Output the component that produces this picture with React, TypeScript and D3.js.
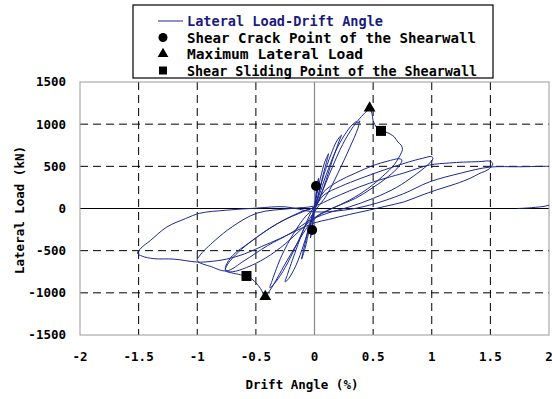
import React from 'react';
import * as d3 from 'd3';

// drift angle (%) / lateral load (kN), one array per loading cycle
const cycle1 = [[0, 0], [0.01, 130], [0.02, 267], [0.035, 360], [0.03, 300], [0.01, 120], [-0.005, -60], [-0.02, -255], [-0.035, -350], [-0.025, -260], [-0.005, -40], [0, 10]];
const cycle2 = [[0.02, 160], [0.05, 360], [0.09, 560], [0.12, 650], [0.11, 590], [0.07, 380], [0.03, 140], [0, -20], [-0.04, -230], [-0.08, -470], [-0.11, -600], [-0.1, -530], [-0.06, -300], [-0.02, -80], [0, 10]];
const cycle3 = [[0.03, 150], [0.08, 400], [0.14, 640], [0.19, 800], [0.23, 870], [0.21, 800], [0.15, 560], [0.08, 260], [0.02, 40], [-0.03, -140], [-0.09, -420], [-0.16, -680], [-0.22, -830], [-0.25, -870], [-0.23, -780], [-0.16, -500], [-0.08, -200], [-0.02, -20], [0, 20]];
const cycle4 = [[0.04, 160], [0.1, 400], [0.18, 680], [0.26, 880], [0.32, 990], [0.36, 1030], [0.37, 1010], [0.385, 1040], [0.37, 950], [0.3, 720], [0.2, 420], [0.1, 150], [0.02, 0], [-0.06, -160], [-0.15, -420], [-0.25, -700], [-0.33, -870], [-0.38, -940], [-0.36, -850], [-0.28, -560], [-0.18, -300], [-0.08, -100], [0, 10]];
const cycle5 = [[0.06, 180], [0.14, 450], [0.24, 760], [0.33, 970], [0.4, 1090], [0.45, 1160], [0.47, 1175], [0.49, 1130], [0.5, 1040], [0.53, 960], [0.56, 920], [0.62, 900], [0.68, 850], [0.71, 790], [0.74, 750], [0.75, 700], [0.74, 660], [0.68, 520], [0.58, 380], [0.45, 230], [0.3, 100], [0.15, 0], [0.03, -90], [-0.05, -200], [-0.15, -420], [-0.26, -680], [-0.34, -880], [-0.39, -990], [-0.42, -1035], [-0.44, -1000], [-0.46, -950], [-0.5, -880], [-0.55, -820], [-0.58, -800], [-0.65, -780], [-0.75, -740], [-0.76, -700], [-0.7, -560], [-0.55, -400], [-0.4, -250], [-0.25, -130], [-0.1, -30], [0, 20]];
const cycle6 = [[0.08, 200], [0.2, 320], [0.35, 420], [0.5, 510], [0.62, 560], [0.72, 590], [0.745, 575], [0.72, 500], [0.63, 380], [0.5, 250], [0.35, 120], [0.18, 20], [0.03, -80], [-0.1, -230], [-0.25, -420], [-0.42, -590], [-0.58, -700], [-0.7, -750], [-0.76, -740], [-0.74, -660], [-0.62, -480], [-0.45, -300], [-0.28, -150], [-0.1, -40], [0, 20]];
const cycle7 = [[0.08, 160], [0.22, 260], [0.4, 360], [0.6, 460], [0.8, 550], [0.92, 595], [1.0, 615], [1.01, 590], [0.96, 510], [0.85, 390], [0.7, 250], [0.5, 120], [0.3, 20], [0.1, -60], [-0.05, -150], [-0.2, -290], [-0.4, -440], [-0.6, -620], [-0.75, -740], [-0.88, -690], [-1.0, -620], [-0.98, -560], [-0.85, -380], [-0.7, -215], [-0.49, -55], [-0.2, 0], [0, 30]];
const cycle8 = [[0.15, 120], [0.3, 210], [0.47, 300], [0.62, 365], [0.76, 420], [0.98, 515], [1.15, 540], [1.27, 550], [1.4, 555], [1.5, 560], [1.52, 530], [1.49, 470], [1.4, 410], [1.33, 360], [1.2, 290], [1.04, 220], [0.9, 150], [0.76, 77], [0.6, 25], [0.47, -18], [0.3, -70], [0.12, -130], [0, -170], [-0.15, -260], [-0.3, -360], [-0.45, -450], [-0.6, -540], [-0.75, -600], [-0.9, -630], [-1.0, -635], [-1.2, -600], [-1.37, -595], [-1.47, -565], [-1.51, -530], [-1.48, -470], [-1.4, -380], [-1.26, -220], [-1.1, -120], [-0.98, -57], [-0.75, -20], [-0.49, 5], [-0.25, 20], [0, -40]];
const cycle9 = [[0.25, -20], [0.47, 40], [0.75, 170], [0.98, 315], [1.25, 420], [1.49, 490], [1.75, 495], [2.0, 500], [2.06, 495], [2.06, 100], [2.0, 40], [1.85, 10], [1.73, 0]];

// marked points
const crackPoints = [[0.013, 267], [-0.02, -255]];
const maxLoadPoints = [[0.47, 1190], [-0.42, -1045]];
const slidingPoints = [[0.567, 920], [-0.58, -800]];

const xTicks = [-2, -1.5, -1, -0.5, 0, 0.5, 1, 1.5, 2];
const yTicks = [-1500, -1000, -500, 0, 500, 1000, 1500];

const legendLabels = [
  'Lateral Load-Drift Angle',
  'Shear Crack Point of the Shearwall',
  'Maximum Lateral Load',
  'Shear Sliding Point of the Shearwall',
];
const legendWidths = [196, 289, 176, 290];

const W = 552;
const H = 399;
const FONT = 'DejaVu Sans Mono, monospace';
const NAVY = '#1b2894';

export default function App() {
  const x = d3.scaleLinear().domain([-2, 2]).range([80, 549]);
  const y = d3.scaleLinear().domain([-1500, 1500]).range([335, 82]);

  const allPoints = [...cycle1, ...cycle2, ...cycle3, ...cycle4, ...cycle5, ...cycle6, ...cycle7, ...cycle8, ...cycle9];
  const line = d3.line<number[]>()
    .x(d => x(d[0]))
    .y(d => y(d[1]))
    .curve(d3.curveCatmullRom.alpha(0.5));

  const sym = (type: d3.SymbolType, size: number) => d3.symbol().type(type).size(size)() as string;

  const [x0, x1] = x.range();
  const [y0, y1] = y.range();

  return (
    <svg width={W} height={H} style={{ position: 'absolute', left: 0, top: 0, background: '#fff' }}
      fontFamily={FONT} fontWeight="bold">
      <defs>
        <clipPath id="plot">
          <rect x={x0} y={y1} width={x1 - x0} height={y0 - y1} />
        </clipPath>
      </defs>

      {/* grid */}
      {xTicks.filter(t => t !== 0 && Math.abs(t) !== 2).map(t => (
        <line key={'gx' + t} x1={x(t)} x2={x(t)} y1={y1} y2={y0} stroke="#000" strokeDasharray="8,5" />
      ))}
      {yTicks.filter(t => t !== 0 && Math.abs(t) !== 1500).map(t => (
        <line key={'gy' + t} x1={x0} x2={x1} y1={y(t)} y2={y(t)} stroke="#000" strokeDasharray="8,5" />
      ))}
      <line x1={x(0)} x2={x(0)} y1={y1} y2={y0} stroke="#888" strokeWidth={1.2} />
      <line x1={x0} x2={x1} y1={y(0)} y2={y(0)} stroke="#000" />
      <rect x={x0} y={y1} width={x1 - x0} height={y0 - y1} fill="none" stroke="#999" />

      {/* hysteresis curve */}
      <g clipPath="url(#plot)">
        <path d={line(allPoints) as string} fill="none" stroke={NAVY} strokeWidth={1} />
      </g>

      {/* markers */}
      {crackPoints.map((p, i) => (
        <circle key={'c' + i} cx={x(p[0])} cy={y(p[1])} r={5} fill="#000" />
      ))}
      {maxLoadPoints.map((p, i) => (
        <path key={'t' + i} d={sym(d3.symbolTriangle, 60)} transform={`translate(${x(p[0])},${y(p[1])})`} fill="#000" />
      ))}
      {slidingPoints.map((p, i) => (
        <path key={'s' + i} d={sym(d3.symbolSquare, 100)} transform={`translate(${x(p[0])},${y(p[1])})`} fill="#000" />
      ))}

      {/* axes labels */}
      {yTicks.map(t => (
        <text key={'yl' + t} x={66} y={y(t)} dy="0.35em" textAnchor="end" fontSize={12.5}>{t}</text>
      ))}
      {xTicks.map(t => (
        <text key={'xl' + t} x={x(t)} y={357} dy="0.35em" textAnchor="middle" fontSize={12.5}>{t}</text>
      ))}
      <text x={302} y={385} dy="0.35em" textAnchor="middle" fontSize={12.5}>Drift Angle (%)</text>
      <text transform={`translate(20,210) rotate(-90)`} dy="0.35em" textAnchor="middle" fontSize={12.5}>Lateral Load (kN)</text>

      {/* legend */}
      <rect x={133} y={5} width={360} height={73} fill="#fff" stroke="#000" strokeWidth={1.2} />
      {legendLabels.map((label, i) => {
        const cy = 21 + i * 16.5;
        return (
          <g key={label}>
            {i === 0 && <line x1={158} x2={183} y1={cy} y2={cy} stroke={NAVY} />}
            {i === 1 && <circle cx={163} cy={cy} r={4.5} fill="#000" />}
            {i === 2 && <path d={sym(d3.symbolTriangle, 50)} transform={`translate(163,${cy})`} fill="#000" />}
            {i === 3 && <path d={sym(d3.symbolSquare, 64)} transform={`translate(163,${cy})`} fill="#000" />}
            <text x={187} y={cy} dy="0.35em" fontSize={14.5} textLength={legendWidths[i]} lengthAdjust="spacingAndGlyphs"
              fill={i === 0 ? '#1a1a80' : '#000'}>{label}</text>
          </g>
        );
      })}
    </svg>
  );
}
